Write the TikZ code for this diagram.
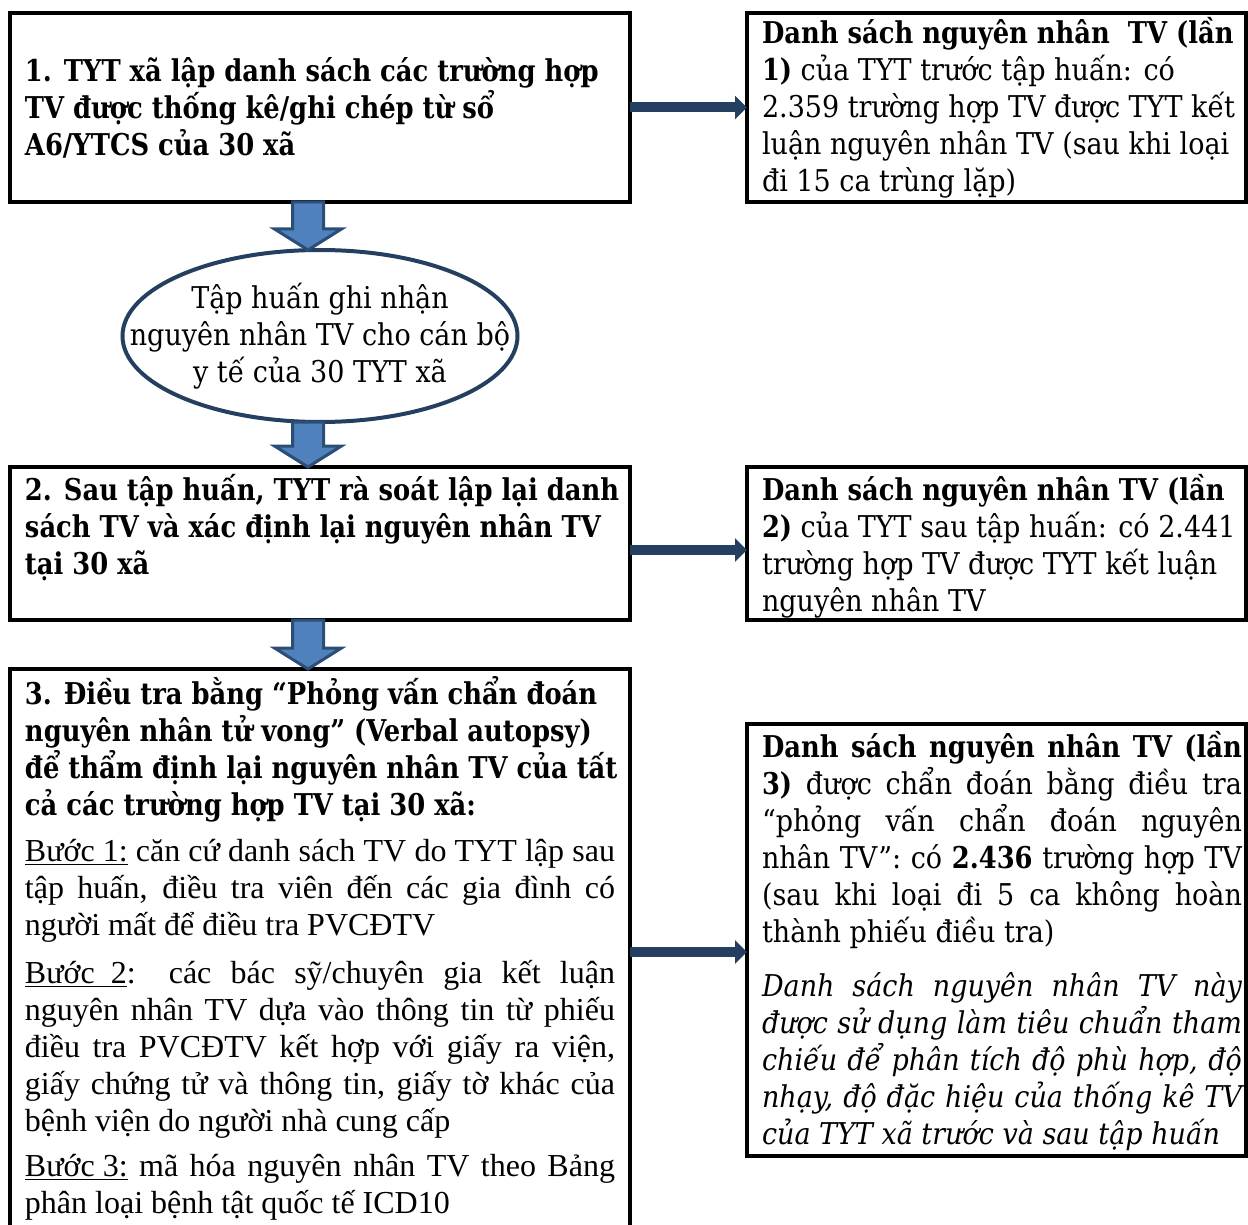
\documentclass[tikz,border=0pt]{standalone}
\usepackage{fontspec}
\setmainfont{DejaVu Serif}[FakeStretch=0.90, BoldFeatures={FakeStretch=0.86}]
\newfontfamily\timesfont{Liberation Serif}
\usetikzlibrary{arrows.meta, positioning, shapes.geometric, calc}
\definecolor{navy}{HTML}{243F60}
\definecolor{stepblue}{HTML}{4F81BD}
\definecolor{stepedge}{HTML}{2C4D75}
\tikzset{
    x=0.5pt, y=-0.5pt, % one unit is one pixel of the layout
    every node/.style={font=\fontsize{15}{18.5}\selectfont},
    frame/.style={draw, line width=1.8pt, inner xsep=0pt, inner ysep=3.5pt, outer sep=0pt, anchor=north west}, % the text boxes
    oval/.style={ellipse, draw=navy, line width=2pt, minimum width=197.5pt, minimum height=86pt,
        inner xsep=-40pt, inner ysep=-20pt, outer sep=0pt, align=center},
    navyarrow/.style={draw=navy, line width=5pt, -{Triangle[length=6pt, width=11.5pt]}}, % arrows to the lists
    fatarrow/.style={draw=stepedge, fill=stepblue, line width=1.5pt, % block arrows going down
        to path={let \p1=(\tikztostart), \p2=(\tikztotarget) in
            (\x1-7.75pt,\y1) -- (\x1+7.75pt,\y1) -- (\x1+7.75pt,\y2+10.5pt) -- (\x1+16.75pt,\y2+10.5pt)
            -- (\x1,\y2) -- (\x1-16.75pt,\y2+10.5pt) -- (\x1-7.75pt,\y2+10.5pt) -- cycle}},
}
\begin{document}
\begin{tikzpicture}
\useasboundingbox (0,0) rectangle (1248,1225);
% left column
\node[frame, inner xsep=7.5pt] (box1) at (10,13) {\parbox[c][87.5pt][c]{295pt}{\raggedright\rightskip=-8pt plus 1fil\bfseries
    1. TYT xã lập danh sách các trường hợp\\ TV được thống kê/ghi chép từ sổ\\ A6/YTCS của 30 xã}};
\node[oval, below=24pt of box1] (ell) {Tập huấn ghi nhận\\ nguyên nhân TV cho cán bộ\\ y tế của 30 TYT xã};
\node[frame, inner xsep=7.5pt, below=22.5pt of ell] (box2) {\parbox[c][69.5pt][t]{295pt}{\raggedright\rightskip=-8pt plus 1fil\bfseries
    2. Sau tập huấn, TYT rà soát lập lại danh\\ sách TV và xác định lại nguyên nhân TV\\ tại 30 xã}};
\node[frame, inner xsep=7.5pt, below=24.5pt of box2] (box3) {\parbox[c][285pt][t]{295pt}{%
    {\raggedright\rightskip=-8pt plus 1fil\bfseries 3. Điều tra bằng “Phỏng vấn chẩn đoán\\ nguyên nhân tử vong” (Verbal autopsy)\\
    để thẩm định lại nguyên nhân TV của tất\\ cả các trường hợp TV tại 30 xã:\par}
    \vspace{4.5pt}
    \timesfont\fontsize{16}{18.5}\selectfont
    \underline{Bước 1:} căn cứ danh sách TV do TYT lập sau\linebreak tập huấn, điều tra viên đến các gia đình có\linebreak
    người mất để điều tra PVCĐTV\par
    \vspace{5.5pt}
    \underline{Bước\ \ 2}: các bác sỹ/chuyên gia kết luận\linebreak nguyên nhân TV dựa vào thông tin từ phiếu\linebreak
    điều tra PVCĐTV kết hợp với giấy ra viện,\linebreak giấy chứng tử và thông tin, giấy tờ khác của\linebreak
    bệnh viện do người nhà cung cấp\par
    \vspace{4pt}
    \underline{Bước 3:} mã hóa nguyên nhân TV theo Bảng\linebreak phân loại bệnh tật quốc tế ICD10}};
% right column
\node[frame, right=58.5pt of box1.north east, anchor=north west] (list1) {\hspace*{7.5pt}\parbox[c][87.5pt][c]{240pt}{\raggedright
    \textbf{Danh sách nguyên nhân\ \ TV (lần}\\ \textbf{1)} của TYT trước tập huấn: có\\ 2.359 trường hợp TV được TYT kết\\
    luận nguyên nhân TV (sau khi loại\\ đi 15 ca trùng lặp)}\hspace*{2pt}};
\node[frame, right=58.5pt of box2.north east, anchor=north west] (list2) {\hspace*{7.5pt}\parbox[c][69.5pt][t]{240pt}{\raggedright
    \textbf{Danh sách nguyên nhân TV (lần}\\ \textbf{2)} của TYT sau tập huấn: có 2.441\\ trường hợp TV được TYT kết luận\\
    nguyên nhân TV}\hspace*{2pt}};
\node[frame, right=58.5pt of box3.north east, anchor=north west, yshift=-27.5pt] (list3) {\hspace*{7.5pt}\parbox[c][209pt][t]{240pt}{%
    \textbf{Danh sách nguyên nhân TV (lần}\linebreak \textbf{3)} được chẩn đoán bằng điều tra\linebreak
    “phỏng vấn chẩn đoán nguyên\linebreak nhân TV”: có \textbf{2.436} trường hợp TV\linebreak
    (sau khi loại đi 5 ca không hoàn\linebreak thành phiếu điều tra)\par
    \vspace{8.5pt}
    \itshape Danh sách nguyên nhân TV này\linebreak được sử dụng làm tiêu chuẩn tham\linebreak
    chiếu để phân tích độ phù hợp, độ\linebreak nhạy, độ đặc hiệu của thống kê TV\linebreak
    của TYT xã trước và sau tập huấn}\hspace*{2pt}};
% arrows
\coordinate (axis) at ([xshift=-6pt]box1.south);
\draw[fatarrow] (axis) to (axis |- ell.north);
\draw[fatarrow] (axis |- ell.south) to (axis |- box2.north);
\draw[fatarrow] (axis |- box2.south) to (axis |- box3.north);
\coordinate (in2) at ([yshift=-3.25pt]list2.west);
\coordinate (in3) at ([yshift=-6pt]list3.west);
\draw[navyarrow] (box1.east) -- (list1.west);
\draw[navyarrow] (box2.east |- in2) -- (in2);
\draw[navyarrow] (box3.east |- in3) -- (in3);
\end{tikzpicture}
\end{document}
